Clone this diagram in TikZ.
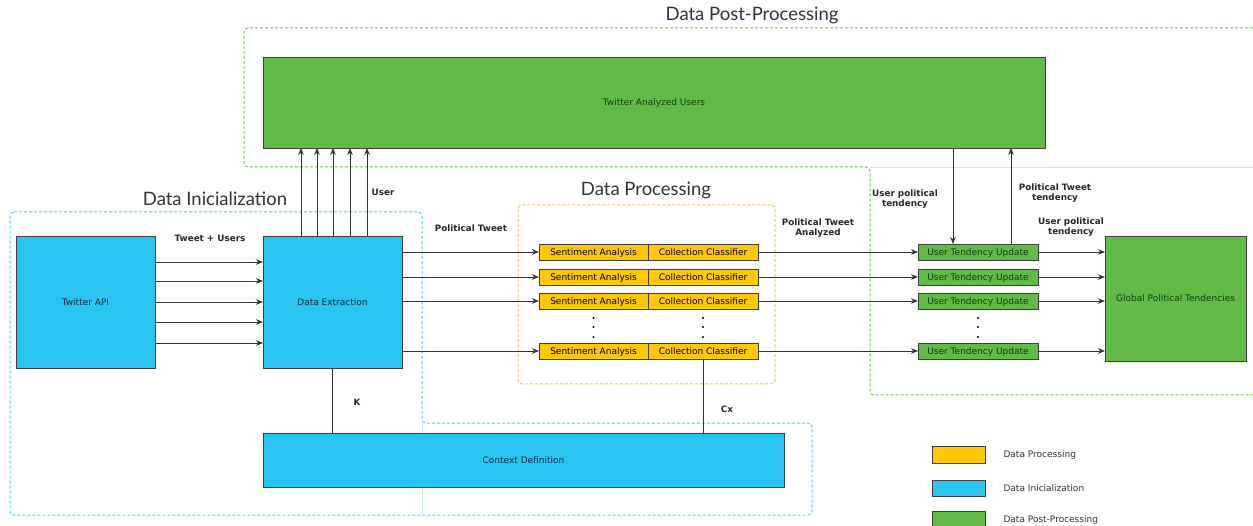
\documentclass[tikz,border=0pt]{standalone}
\usepackage{fontspec}
\setmainfont{DejaVu Sans}
\newfontfamily\titlefont{Lato}
\usetikzlibrary{arrows.meta,shadows}

\definecolor{iniblue}{RGB}{41,197,242}
\definecolor{proyellow}{RGB}{255,200,0}
\definecolor{postgreen}{RGB}{98,187,70}
\definecolor{inidash}{RGB}{90,200,240}
\definecolor{prodash}{RGB}{240,200,70}
\definecolor{postdash}{RGB}{115,200,85}
\definecolor{greentext}{RGB}{15,60,15}
\definecolor{bluetext}{RGB}{10,40,60}

\begin{document}
\begin{tikzpicture}[
    x=1pt, y=-1pt,
    box/.style={
        draw=black!75,
        line width=0.8pt,
        inner sep=0pt,
        outer sep=0pt,
        text height=7.4pt,
        text depth=1pt,
        font=\fontsize{9}{10.8}\selectfont,
        drop shadow={opacity=0.25, shadow xshift=0.8pt, shadow yshift=-0.8pt}
    },
    inibox/.style={box, fill=iniblue, text=bluetext},
    probox/.style={box, fill=proyellow, text=black, minimum height=16},
    postbox/.style={box, fill=postgreen, text=greentext},
    group/.style={dash pattern=on 3pt off 2pt, line width=1pt, rounded corners=4pt},
    grouptitle/.style={font=\titlefont\fontsize{18.5}{22}\selectfont, text=black!80},
    lbl/.style={font=\fontsize{8.8}{10.5}\selectfont\bfseries, align=center, text=black!85},
    arr/.style={-{Stealth[length=7pt,width=5.5pt]}, draw=black!80, line width=0.8pt},
    link/.style={draw=black!80, line width=0.8pt}
]
\useasboundingbox (0,0) rectangle (1253,526);

% groups
\draw[group, postdash] (1258,28) -- (244,28) -- (244,167) -- (870,167) -- (870,395) -- (1258,395);
\draw[postdash, opacity=0.3, line width=0.6pt] (870,167) -- (1258,167);
\draw[group, inidash] (10,212) -- (422,212) -- (422,423) -- (812,423) -- (812,515) -- (10,515) -- cycle;
\draw[inidash, opacity=0.3, line width=0.6pt] (422,423) -- (422,515);
\draw[group, prodash] (518,205) rectangle (775,384);

\node[grouptitle] (posttitle) at (752,15) {Data Post-Processing};
\node[grouptitle] (inititle) at (215,199) {Data Inicialization};
\node[grouptitle] (protitle) at (646,190) {Data Processing};

% boxes
\node[postbox, minimum width=782, minimum height=91] (tau) at (654,102.5) {Twitter Analyzed Users};
\node[inibox, minimum width=139, minimum height=132] (api) at (85.5,302) {Twitter API};
\node[inibox, minimum width=139, minimum height=132] (ext) at (332.5,302) {Data Extraction};
\node[inibox, minimum width=521, minimum height=54] (ctx) at (523.5,460) {Context Definition};
\node[postbox, minimum width=141, minimum height=125] (gpt) at (1175.5,298.5) {Global Political Tendencies};

\foreach \i/\y in {1/252,2/277,3/301,4/351}{
    \node[probox, minimum width=109] (sa\i) at (593.5,\y) {Sentiment Analysis};
    \node[probox, minimum width=110] (cc\i) at (703,\y) {Collection Classifier};
    \node[postbox, minimum width=120, minimum height=16] (utu\i) at (978,\y) {User Tendency Update};
    \draw[arr] (ext.east |- sa\i.west) -- (sa\i.west);
    \draw[arr] (cc\i.east) -- (utu\i.west);
    \draw[arr] (utu\i.east) -- (gpt.west |- utu\i.east);
}

% dots
\foreach \y in {318,327,337}{
    \fill (sa3.south |- 0,\y) circle (1.2);
    \fill (cc3.south |- 0,\y) circle (1.2);
    \fill (utu3.south |- 0,\y) circle (1.2);
}

% connectors
\foreach \y in {262,281,302,322,343}
    \draw[arr] (api.east |- 0,\y) -- (ext.west |- 0,\y);
\foreach \x in {301,317,333,350,367}
    \draw[arr] (ext.north -| \x,0) -- (tau.south -| \x,0);
\draw[link] (ext.south) -- (ctx.north -| ext.south);
\draw[link] (cc4.south) -- (ctx.north -| cc4.south);
\draw[arr] (tau.south -| 953,0) -- (utu1.north -| 953,0);
\draw[arr] (utu1.north -| 1011,0) -- (tau.south -| 1011,0);

% labels
\node[lbl] (lbluser) at (383,192) {User};
\node[lbl] (lbltweet) at (210,238) {Tweet + Users};
\node[lbl] (lblpol) at (471,228) {Political Tweet};
\node[lbl] (lblana) at (818,228) {Political Tweet\\Analyzed};
\node[lbl] (lblutend) at (905,199) {User political\\tendency};
\node[lbl] (lblptend) at (1055,193) {Political Tweet\\tendency};
\node[lbl] (lblgtend) at (1071,227) {User political\\tendency};
\node[lbl] (lblk) at (357,402) {K};
\node[lbl] (lblcx) at (727,409) {Cx};

% legend
\node[probox, minimum width=53, minimum height=17] (legpro) at (958.5,454.5) {};
\node[inibox, minimum width=53, minimum height=16] (legini) at (958.5,488) {};
\node[postbox, minimum width=53, minimum height=17] (legpost) at (958.5,519.5) {};
\node[anchor=west, font=\fontsize{9}{10.8}\selectfont, text=black!80] (legprotext) at (1000,455) {Data Processing};
\node[anchor=west, font=\fontsize{9}{10.8}\selectfont, text=black!80] (leginitext) at (1000,488) {Data Inicialization};
\node[anchor=west, font=\fontsize{9}{10.8}\selectfont, text=black!80] (legposttext) at (1000,520) {Data Post-Processing};

\end{tikzpicture}
\end{document}
